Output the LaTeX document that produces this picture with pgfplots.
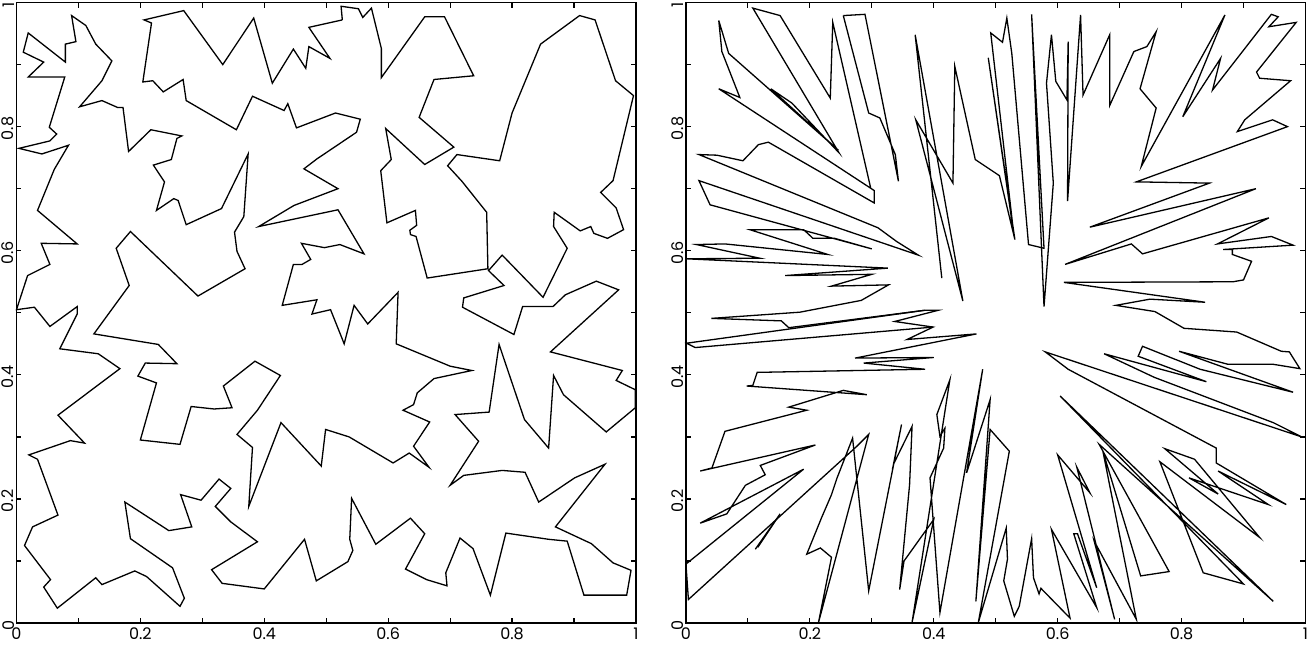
\documentclass[border={0pt 2pt 0pt 0pt}]{standalone}
\usepackage{fontspec}
\setmainfont{Poppins}
\usepackage{pgfplots}
\pgfplotsset{compat=1.18}
\pgfplotsset{panel/.style={
  scale only axis, width=310pt, height=310.5pt,
  xmin=0, xmax=1, ymin=0, ymax=1, clip=false,
  xtick={0,0.1,0.2,0.3,0.4,0.5,0.6,0.7,0.8,0.9,1},
  ytick={0,0.1,0.2,0.3,0.4,0.5,0.6,0.7,0.8,0.9,1},
  xticklabels={0,,0.2,,0.4,,0.6,,0.8,,1},
  yticklabels={0,,0.2,,0.4,,0.6,,0.8,,1},
  tick align=inside, xtick pos=both, ytick pos=both,
  xticklabel pos=lower, yticklabel pos=left,
  major tick length=2.5pt,
  every tick/.style={black, line width=0.6pt},
  axis line style={line width=0.9pt},
  tick label style={font=\fontsize{8}{9}\selectfont},
  xticklabel style={anchor=north, inner sep=1pt, yshift=-1pt},
  yticklabel style={rotate=90, anchor=south, inner sep=1pt, xshift=-1pt},
  cycle list={{black, mark=none, line width=0.65pt}},
  every axis plot post/.append style={black, mark=none, line width=0.65pt, line join=miter},
}}
\begin{document}
\begin{tikzpicture}
\begin{axis}[panel, at={(0pt,0pt)}]
\addplot coordinates {(0.526,0.972) (0.524,0.994) (0.552,0.990) (0.559,0.976) (0.573,0.991) (0.589,0.926) (0.589,0.879) (0.659,0.977) (0.691,0.977) (0.738,0.882) (0.674,0.876) (0.650,0.815) (0.706,0.767) (0.659,0.739) (0.596,0.797) (0.605,0.747) (0.588,0.729) (0.598,0.645) (0.644,0.665) (0.646,0.641) (0.635,0.633) (0.636,0.626) (0.645,0.623) (0.663,0.556) (0.761,0.571) (0.759,0.662) (0.719,0.712) (0.696,0.737) (0.711,0.755) (0.780,0.745) (0.800,0.822) (0.846,0.933) (0.909,0.979) (0.934,0.972) (0.967,0.874) (0.996,0.850) (0.963,0.713) (0.943,0.694) (0.968,0.669) (0.980,0.634) (0.954,0.620) (0.932,0.628) (0.927,0.639) (0.910,0.632) (0.868,0.662) (0.867,0.639) (0.889,0.604) (0.850,0.525) (0.784,0.593) (0.762,0.568) (0.787,0.544) (0.722,0.524) (0.720,0.509) (0.803,0.465) (0.817,0.510) (0.866,0.510) (0.886,0.529) (0.936,0.551) (0.972,0.537) (0.862,0.437) (0.978,0.407) (0.968,0.391) (0.999,0.376) (0.999,0.347) (0.952,0.308) (0.883,0.368) (0.867,0.399) (0.859,0.282) (0.820,0.328) (0.779,0.449) (0.763,0.340) (0.708,0.336) (0.746,0.293) (0.700,0.222) (0.722,0.238) (0.784,0.246) (0.821,0.243) (0.843,0.195) (0.901,0.234) (0.950,0.256) (0.870,0.155) (0.928,0.128) (0.963,0.097) (0.992,0.085) (0.985,0.045) (0.916,0.045) (0.889,0.132) (0.859,0.135) (0.790,0.145) (0.765,0.045) (0.737,0.120) (0.716,0.137) (0.693,0.081) (0.695,0.060) (0.662,0.070) (0.628,0.087) (0.659,0.144) (0.636,0.169) (0.580,0.127) (0.541,0.201) (0.538,0.135) (0.543,0.117) (0.535,0.099) (0.484,0.068) (0.465,0.135) (0.400,0.055) (0.332,0.064) (0.315,0.086) (0.389,0.131) (0.346,0.163) (0.321,0.188) (0.346,0.217) (0.327,0.232) (0.298,0.198) (0.265,0.207) (0.283,0.155) (0.246,0.149) (0.175,0.195) (0.184,0.136) (0.252,0.089) (0.271,0.040) (0.264,0.027) (0.210,0.075) (0.191,0.084) (0.138,0.062) (0.128,0.073) (0.066,0.024) (0.044,0.058) (0.055,0.070) (0.013,0.125) (0.026,0.155) (0.067,0.174) (0.034,0.264) (0.020,0.271) (0.087,0.294) (0.110,0.290) (0.067,0.335) (0.167,0.410) (0.132,0.434) (0.070,0.442) (0.098,0.498) (0.098,0.510) (0.054,0.478) (0.029,0.509) (0.000,0.505) (0.018,0.560) (0.054,0.578) (0.040,0.612) (0.098,0.611) (0.034,0.665) (0.061,0.731) (0.084,0.770) (0.041,0.756) (0.004,0.765) (0.054,0.777) (0.065,0.788) (0.053,0.799) (0.078,0.880) (0.019,0.880) (0.044,0.904) (0.011,0.920) (0.019,0.951) (0.079,0.904) (0.079,0.933) (0.096,0.937) (0.089,0.979) (0.112,0.963) (0.128,0.933) (0.154,0.906) (0.138,0.874) (0.102,0.832) (0.138,0.842) (0.163,0.831) (0.172,0.831) (0.181,0.760) (0.217,0.795) (0.267,0.785) (0.259,0.781) (0.250,0.747) (0.221,0.738) (0.239,0.711) (0.226,0.665) (0.254,0.684) (0.261,0.681) (0.274,0.642) (0.331,0.668) (0.374,0.756) (0.367,0.655) (0.352,0.630) (0.356,0.599) (0.369,0.571) (0.293,0.527) (0.184,0.631) (0.161,0.604) (0.182,0.544) (0.125,0.466) (0.229,0.449) (0.259,0.418) (0.208,0.419) (0.196,0.398) (0.226,0.387) (0.200,0.295) (0.264,0.288) (0.282,0.349) (0.319,0.345) (0.348,0.347) (0.334,0.382) (0.385,0.422) (0.426,0.399) (0.389,0.343) (0.356,0.304) (0.381,0.283) (0.375,0.188) (0.427,0.323) (0.492,0.253) (0.499,0.312) (0.537,0.300) (0.608,0.258) (0.634,0.274) (0.666,0.251) (0.641,0.285) (0.667,0.324) (0.624,0.343) (0.641,0.352) (0.647,0.371) (0.674,0.394) (0.735,0.407) (0.700,0.414) (0.613,0.450) (0.616,0.533) (0.567,0.482) (0.545,0.512) (0.529,0.450) (0.507,0.505) (0.477,0.498) (0.485,0.521) (0.429,0.512) (0.447,0.578) (0.461,0.578) (0.475,0.586) (0.460,0.612) (0.497,0.605) (0.522,0.610) (0.561,0.595) (0.519,0.666) (0.391,0.639) (0.448,0.673) (0.519,0.700) (0.464,0.732) (0.485,0.748) (0.549,0.791) (0.555,0.812) (0.515,0.822) (0.452,0.798) (0.438,0.837) (0.432,0.826) (0.381,0.849) (0.355,0.795) (0.274,0.842) (0.269,0.876) (0.237,0.856) (0.220,0.874) (0.204,0.872) (0.218,0.967) (0.206,0.972) (0.270,0.987) (0.333,0.900) (0.383,0.975) (0.413,0.870) (0.447,0.925) (0.467,0.894) (0.472,0.929) (0.506,0.910) (0.472,0.960) (0.526,0.972)};
\end{axis}
\begin{axis}[panel, at={(335pt,0pt)}]
\addplot coordinates {(0.298,0.702) (0.237,0.968) (0.233,0.846) (0.152,0.979) (0.108,0.991) (0.247,0.758) (0.171,0.838) (0.137,0.861) (0.246,0.762) (0.069,0.918) (0.053,0.971) (0.058,0.921) (0.087,0.847) (0.053,0.861) (0.304,0.697) (0.304,0.677) (0.133,0.775) (0.117,0.771) (0.092,0.745) (0.050,0.754) (0.021,0.755) (0.310,0.637) (0.340,0.615) (0.375,0.593) (0.021,0.713) (0.039,0.674) (0.300,0.603) (0.240,0.620) (0.205,0.620) (0.190,0.634) (0.149,0.634) (0.103,0.634) (0.229,0.594) (0.063,0.611) (0.017,0.610) (0.119,0.588) (0.001,0.587) (0.326,0.572) (0.160,0.560) (0.300,0.562) (0.235,0.543) (0.327,0.545) (0.283,0.520) (0.184,0.501) (0.041,0.491) (0.154,0.487) (0.166,0.476) (0.385,0.504) (0.407,0.504) (0.337,0.486) (0.399,0.477) (0.357,0.457) (0.469,0.466) (0.273,0.427) (0.400,0.428) (0.287,0.419) (0.386,0.409) (0.115,0.404) (0.108,0.383) (0.098,0.382) (0.292,0.368) (0.254,0.375) (0.166,0.348) (0.195,0.343) (0.063,0.309) (0.042,0.250) (0.023,0.245) (0.209,0.287) (0.120,0.254) (0.128,0.239) (0.096,0.222) (0.066,0.176) (0.023,0.161) (0.190,0.248) (0.000,0.095) (0.004,0.038) (0.276,0.285) (0.295,0.304) (0.214,0.001) (0.235,0.106) (0.217,0.121) (0.195,0.111) (0.219,0.170) (0.235,0.207) (0.244,0.234) (0.269,0.298) (0.295,0.052) (0.348,0.320) (0.335,0.256) (0.365,0.317) (0.361,0.223) (0.345,0.054) (0.352,0.100) (0.400,0.167) (0.365,0.001) (0.426,0.392) (0.405,0.336) (0.410,0.301) (0.418,0.314) (0.416,0.282) (0.394,0.234) (0.410,0.017) (0.479,0.409) (0.453,0.242) (0.491,0.360) (0.468,0.035) (0.491,0.312) (0.522,0.277) (0.472,0.001) (0.517,0.153) (0.519,0.103) (0.513,0.068) (0.530,0.011) (0.538,0.027) (0.558,0.136) (0.561,0.073) (0.570,0.047) (0.573,0.056) (0.620,0.008) (0.590,0.151) (0.663,0.025) (0.626,0.144) (0.632,0.144) (0.663,0.057) (0.600,0.271) (0.652,0.210) (0.631,0.251) (0.692,0.006) (0.659,0.132) (0.727,0.006) (0.673,0.277) (0.734,0.076) (0.780,0.083) (0.667,0.288) (0.948,0.035) (0.604,0.366) (0.900,0.063) (0.835,0.081) (0.765,0.260) (0.926,0.138) (0.821,0.264) (0.773,0.281) (0.859,0.208) (0.812,0.234) (0.940,0.191) (0.859,0.245) (0.969,0.191) (0.856,0.258) (0.856,0.282) (0.617,0.409) (0.580,0.437) (0.994,0.300) (0.948,0.323) (0.756,0.396) (0.675,0.434) (0.840,0.389) (0.730,0.430) (0.737,0.446) (0.830,0.409) (0.980,0.372) (0.796,0.438) (0.875,0.417) (0.948,0.417) (0.991,0.410) (0.974,0.437) (0.961,0.438) (0.889,0.469) (0.804,0.475) (0.757,0.502) (0.694,0.512) (0.749,0.522) (0.838,0.517) (0.610,0.549) (0.883,0.550) (0.900,0.553) (0.913,0.583) (0.882,0.594) (0.882,0.602) (0.867,0.602) (0.980,0.609) (0.945,0.623) (0.858,0.611) (0.941,0.653) (0.737,0.595) (0.719,0.611) (0.612,0.578) (0.920,0.700) (0.652,0.638) (0.845,0.709) (0.727,0.711) (0.971,0.800) (0.947,0.811) (0.890,0.792) (0.902,0.811) (0.976,0.874) (0.926,0.878) (0.921,0.888) (0.985,0.968) (0.941,0.961) (0.956,0.977) (0.945,0.981) (0.850,0.859) (0.863,0.910) (0.802,0.816) (0.870,0.980) (0.735,0.736) (0.759,0.830) (0.733,0.861) (0.759,0.953) (0.744,0.929) (0.723,0.921) (0.684,0.834) (0.684,0.948) (0.641,0.851) (0.637,0.980) (0.616,0.680) (0.617,0.937) (0.615,0.843) (0.597,0.873) (0.590,0.948) (0.582,0.870) (0.593,0.709) (0.578,0.510) (0.558,0.981) (0.578,0.604) (0.553,0.610) (0.526,0.918) (0.518,0.975) (0.511,0.936) (0.492,0.951) (0.529,0.628) (0.488,0.911) (0.531,0.618) (0.506,0.721) (0.467,0.747) (0.434,0.897) (0.431,0.709) (0.371,0.811) (0.447,0.519) (0.370,0.948) (0.413,0.556)};
\addplot coordinates {(0.254,0.979) (0.289,0.981) (0.343,0.712) (0.338,0.755) (0.313,0.814) (0.295,0.822) (0.254,0.979)};
\addplot coordinates {(0.399,0.477) (0.015,0.444) (0.001,0.451) (0.385,0.504)};
\addplot coordinates {(0.116,0.122) (0.152,0.176) (0.112,0.119)};
\end{axis}
\end{tikzpicture}
\end{document}
